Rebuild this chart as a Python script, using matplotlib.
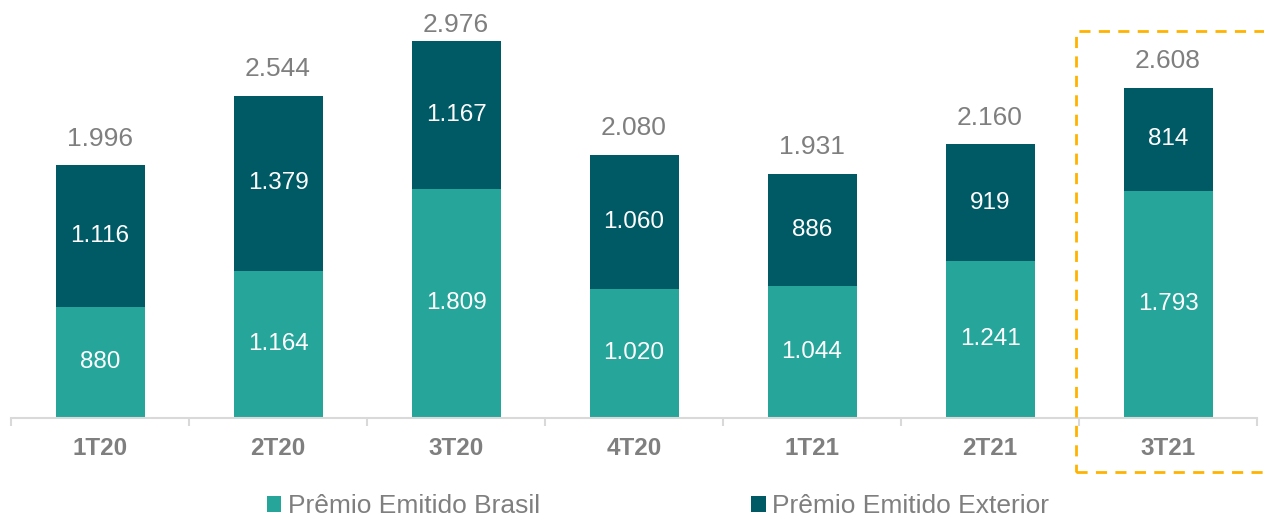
import matplotlib.pyplot as plt
from matplotlib.patches import Rectangle
import numpy as np

plt.rcParams['font.family'] = ['Liberation Sans', 'DejaVu Sans']

quarters = ['1T20', '2T20', '3T20', '4T20', '1T21', '2T21', '3T21']
brasil = [880, 1164, 1809, 1020, 1044, 1241, 1793]
exterior = [1116, 1379, 1167, 1060, 886, 919, 814]
totals = [1996, 2544, 2976, 2080, 1931, 2160, 2608]

c_brasil = '#26A59A'
c_ext = '#005A66'
grey = '#7F7F7F'


def fmt(v):
    return f"{v:,}".replace(",", ".")


fig = plt.figure(figsize=(12.64, 5.19), dpi=100)
ax = fig.add_axes([11 / 1264, (519 - 418) / 519, 1246 / 1264, 418 / 519])

x = np.arange(len(quarters))
b1 = ax.bar(x, brasil, width=0.5, color=c_brasil, label='Prêmio Emitido Brasil')
b2 = ax.bar(x, exterior, width=0.5, bottom=brasil, color=c_ext, label='Prêmio Emitido Exterior')

for i in range(len(quarters)):
    ax.text(x[i], brasil[i] / 2, fmt(brasil[i]), ha='center', va='center',
            color='white', fontsize=17.5)
    ax.text(x[i], brasil[i] + exterior[i] / 2, fmt(exterior[i]), ha='center', va='center',
            color='white', fontsize=17.5)
    # total label above the stack, kept inside the plot area at the top
    ty = min(brasil[i] + exterior[i] + 210, 3100)
    ax.text(x[i], ty, fmt(totals[i]), ha='center', va='center',
            color=grey, fontsize=19)

ax.set_xlim(-0.5, len(quarters) - 0.5)
ax.set_ylim(0, 3300)
ax.set_yticks([])
for s in ['top', 'right', 'left']:
    ax.spines[s].set_visible(False)
ax.spines['bottom'].set_color('#D9D9D9')
ax.spines['bottom'].set_linewidth(1.5)

ax.set_xticks(x)
ax.set_xticklabels(quarters, fontsize=17.5, fontweight='bold', color=grey)
ax.set_xticks(np.arange(-0.5, len(quarters)), minor=True)
ax.tick_params(axis='x', which='major', length=0, pad=14)
ax.tick_params(axis='x', which='minor', length=6, width=1.5, color='#D9D9D9')

fig.legend(handles=[b1, b2], loc='center', bbox_to_anchor=(658 / 1264, 1 - 506 / 519),
           ncol=2, frameon=False, fontsize=19, labelcolor=grey,
           handlelength=0.55, handleheight=0.55, handletextpad=0.25, columnspacing=8.0,
           borderpad=0)

box = Rectangle((1076 / 1264, 1 - 472 / 519), 200 / 1264, 441 / 519,
                transform=fig.transFigure, fill=False, edgecolor='#FFB300',
                linewidth=2, linestyle=(0, (4, 3)), clip_on=False)
fig.patches.append(box)

fig.savefig('out.png', dpi=100)
